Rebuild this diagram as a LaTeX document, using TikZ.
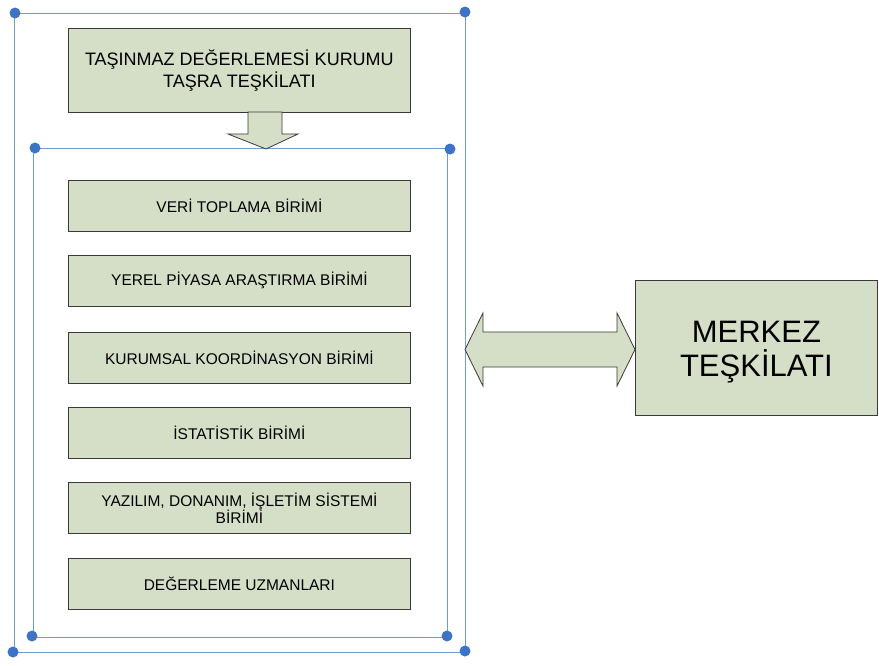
\documentclass[tikz,border=0pt]{standalone}
\usepackage{fontspec}
\setmainfont{Liberation Sans}
\definecolor{boxfill}{HTML}{D5DEC6}
\definecolor{boxline}{HTML}{3A3A3A}
\definecolor{frameblue}{HTML}{6F9BD6}
\definecolor{dotblue}{HTML}{3E74C8}
\begin{document}
\begin{tikzpicture}[x=1pt,y=-1pt,
  unitbox/.style={draw=boxline,fill=boxfill,line width=0.8pt,minimum width=342pt,minimum height=51pt,anchor=north west,inner sep=0pt,align=center,font=\fontsize{15.5}{17}\selectfont},
  frame/.style={draw=frameblue,line width=0.9pt},
  handle/.style={fill=dotblue,circle,inner sep=0pt,minimum size=11pt},
  arrowshape/.style={draw=boxline,fill=boxfill,line width=0.8pt,line join=miter}]
\useasboundingbox (0,0) rectangle (879,665);
% outer frame
\draw[frame] (14,13) rectangle (465,652);
\foreach \p in {(15,13),(465,12),(13,652),(465,651)} \node[handle] at \p {};
% inner frame
\draw[frame] (33,148) rectangle (447,637);
\foreach \p in {(35,148),(450,149),(32,636),(447,636)} \node[handle] at \p {};
% top box
\node[unitbox,minimum height=84pt,font=\fontsize{18}{22}\selectfont] (top) at (68,28) {TAŞINMAZ DEĞERLEMESİ KURUMU\\TAŞRA TEŞKİLATI};
% down arrow
\draw[arrowshape] (248,112) -- (282,112) -- (282,134) -- (298,134) -- (266,149) -- (228,134) -- (248,134) -- cycle;
% unit boxes
\node[unitbox] (b1) at (68,180) {VERİ TOPLAMA BİRİMİ};
\node[unitbox] (b2) at (68,255) {YEREL PİYASA ARAŞTIRMA BİRİMİ};
\node[unitbox] (b3) at (68,331.5) {KURUMSAL KOORDİNASYON BİRİMİ};
\node[unitbox] (b4) at (68,407) {İSTATİSTİK BİRİMİ};
\node[unitbox] (b5) at (68,482) {YAZILIM, DONANIM, İŞLETİM SİSTEMİ\\BİRİMİ};
\node[unitbox] (b6) at (68,558) {DEĞERLEME UZMANLARI};
% merkez
\node[draw=boxline,fill=boxfill,line width=0.8pt,anchor=north west,minimum width=242pt,minimum height=135pt,inner sep=0pt] (mk) at (635,280) {};
\node[align=center,inner sep=0pt,font=\fontsize{31}{34}\selectfont] (mkt) at ([yshift=-4pt]mk.center) {MERKEZ\\TEŞKİLATI};
% double arrow
\draw[arrowshape] (465,349.5) -- (483,313) -- (483,332) -- (617,332) -- (617,313) -- (635,349.5) -- (617,386) -- (617,367) -- (483,367) -- (483,386) -- cycle;
\end{tikzpicture}
\end{document}
